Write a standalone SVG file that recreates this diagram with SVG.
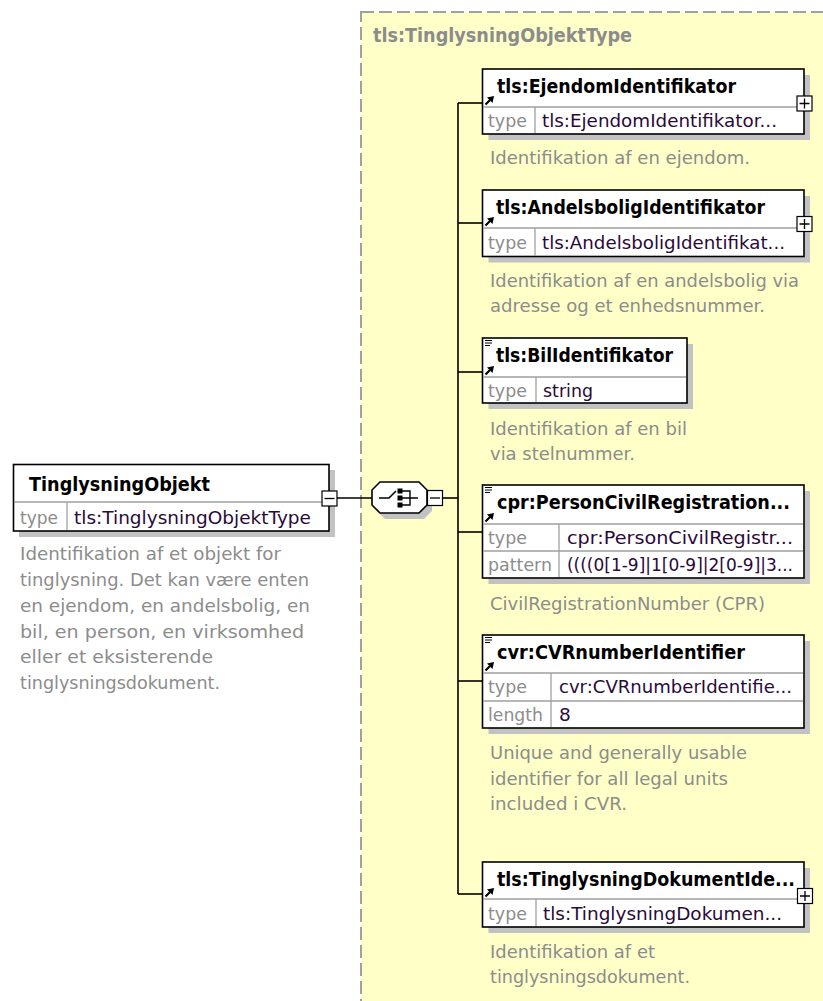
<svg xmlns="http://www.w3.org/2000/svg" xmlns:xlink="http://www.w3.org/1999/xlink" width="823" height="1001" viewBox="0 0 823 1001">
<style>
text{font-family:"DejaVu Sans",Verdana,sans-serif;}
.hdr{font-weight:bold;font-size:19px;fill:#000;}
.ttl{font-weight:bold;font-size:19px;fill:#8c8c8c;}
.lbl{font-size:18.5px;fill:#8c8c8c;}
.val{font-size:18.5px;fill:#2a0a3a;}
.desc{font-size:18.5px;fill:#8c8c8c;}
.box{fill:#fff;stroke:#000;stroke-width:1.6;}
.shadow{fill:#c2c2c2;}
.div{stroke:#a0a0a0;stroke-width:1.3;fill:none;}
.conn{stroke:#000;stroke-width:1.6;fill:none;}
.btn{fill:#fff;stroke:#000;stroke-width:1.2;}
.sign{stroke:#000;stroke-width:1.3;fill:none;}
</style>
<defs>
<g id="arrowIcon">
<path d="M485.5,-2.5 L490,-7" stroke="#000" stroke-width="2.2" fill="none"/>
<polygon points="494,-11 487,-9.5 492.5,-4" fill="#000"/>
</g>
<g id="simpleIcon">
<path d="M485,1.5 H492 M485,4 H492 M485,6.5 H490" stroke="#000" stroke-width="1" fill="none"/>
</g>
<g id="plusBtn">
<rect class="btn" x="-7.5" y="-7.5" width="15" height="15"/>
<path class="sign" d="M-5,0 H5 M0,-5 V5"/>
</g>
<g id="minusBtn">
<rect class="btn" x="-7.5" y="-7.5" width="15" height="15"/>
<path class="sign" d="M-5,0 H5"/>
</g>
</defs>

<g id="container">
<rect x="361" y="12" width="480" height="1010" fill="#ffffc8" stroke="#a0a0a0" stroke-width="2" stroke-dasharray="13,5"/>
<text class="ttl" x="373" y="42" textLength="259" lengthAdjust="spacingAndGlyphs">tls:TinglysningObjektType</text>
</g>

<g id="connectors">
<path class="conn" d="M337,498 H372"/>
<path class="conn" d="M443,498 H458"/>
<path class="conn" d="M458,103 V894"/>
<path class="conn" d="M458,103 H482"/>
<path class="conn" d="M458,223 H482"/>
<path class="conn" d="M458,372 H482"/>
<path class="conn" d="M458,532 H482"/>
<path class="conn" d="M458,681 H482"/>
<path class="conn" d="M458,894 H482"/>
</g>

<g id="TinglysningObjekt">
<rect class="shadow" x="19" y="470" width="316" height="67"/>
<rect class="box" x="13.5" y="464.5" width="315.5" height="66.5"/>
<path class="div" d="M14,502 H328 M67,502 V530"/>
<text class="hdr" x="29" y="491" textLength="181" lengthAdjust="spacingAndGlyphs">TinglysningObjekt</text>
<text class="lbl" x="20" y="524" textLength="38" lengthAdjust="spacingAndGlyphs">type</text>
<text class="val" x="74" y="524" textLength="237" lengthAdjust="spacingAndGlyphs">tls:TinglysningObjektType</text>
<use xlink:href="#minusBtn" transform="translate(329.5,498.5)"/>
<text class="desc" x="20" y="560" textLength="261" lengthAdjust="spacingAndGlyphs">Identifikation af et objekt for</text>
<text class="desc" x="20" y="586" textLength="289" lengthAdjust="spacingAndGlyphs">tinglysning. Det kan være enten</text>
<text class="desc" x="20" y="612" textLength="290" lengthAdjust="spacingAndGlyphs">en ejendom, en andelsbolig, en</text>
<text class="desc" x="20" y="638" textLength="284" lengthAdjust="spacingAndGlyphs">bil, en person, en virksomhed</text>
<text class="desc" x="20" y="663" textLength="193" lengthAdjust="spacingAndGlyphs">eller et eksisterende</text>
<text class="desc" x="20" y="689" textLength="200" lengthAdjust="spacingAndGlyphs">tinglysningsdokument.</text>
</g>

<g id="sequence">
<polygon class="shadow" points="385,488 424,488 432,496 432,511 424,519 385,519 377,511 377,496"/>
<polygon class="box" points="380,482 419,482 427,490 427,505 419,513 380,513 372,505 372,490"/>
<path d="M379,498 H389 L396,491" stroke="#000" stroke-width="1.6" fill="none"/>
<rect x="397.5" y="488.5" width="5" height="5" fill="#000"/>
<rect x="397.5" y="495.5" width="5" height="5" fill="#000"/>
<rect x="397.5" y="502.5" width="5" height="5" fill="#000"/>
<path d="M402,491 H410 V505 H402 M402,498 H418" stroke="#000" stroke-width="1.4" fill="none"/>
<use xlink:href="#minusBtn" transform="translate(435,498)"/>
</g>

<g id="EjendomIdentifikator">
<rect class="shadow" x="488.5" y="75" width="321.5" height="65"/>
<rect class="box" x="482.5" y="69" width="321.5" height="65"/>
<path class="div" d="M483,107 H803 M535,107 V133"/>
<use xlink:href="#arrowIcon" transform="translate(0,107)"/>
<text class="hdr" x="497" y="93" textLength="239" lengthAdjust="spacingAndGlyphs">tls:EjendomIdentifikator</text>
<text class="lbl" x="488" y="127" textLength="39" lengthAdjust="spacingAndGlyphs">type</text>
<text class="val" x="542" y="127" textLength="235" lengthAdjust="spacingAndGlyphs">tls:EjendomIdentifikator...</text>
<use xlink:href="#plusBtn" transform="translate(804.5,103.5)"/>
<text class="desc" x="490" y="164" textLength="260" lengthAdjust="spacingAndGlyphs">Identifikation af en ejendom.</text>
</g>

<g id="AndelsboligIdentifikator">
<rect class="shadow" x="488.5" y="196" width="321.5" height="66.5"/>
<rect class="box" x="482.5" y="190" width="321.5" height="66.5"/>
<path class="div" d="M483,228 H803 M535,228 V256"/>
<use xlink:href="#arrowIcon" transform="translate(0,228)"/>
<text class="hdr" x="496" y="214" textLength="269" lengthAdjust="spacingAndGlyphs">tls:AndelsboligIdentifikator</text>
<text class="lbl" x="488" y="249" textLength="39" lengthAdjust="spacingAndGlyphs">type</text>
<text class="val" x="542" y="249" textLength="243" lengthAdjust="spacingAndGlyphs">tls:AndelsboligIdentifikat...</text>
<use xlink:href="#plusBtn" transform="translate(804.5,224)"/>
<text class="desc" x="490" y="287" textLength="309" lengthAdjust="spacingAndGlyphs">Identifikation af en andelsbolig via</text>
<text class="desc" x="490" y="312" textLength="275" lengthAdjust="spacingAndGlyphs">adresse og et enhedsnummer.</text>
</g>

<g id="BilIdentifikator">
<rect class="shadow" x="488.5" y="344" width="204.5" height="65"/>
<rect class="box" x="482.5" y="338" width="204.5" height="65"/>
<path class="div" d="M483,377 H686 M536,377 V402"/>
<use xlink:href="#simpleIcon" transform="translate(0,339)"/>
<use xlink:href="#arrowIcon" transform="translate(0,377)"/>
<text class="hdr" x="496" y="362" textLength="177" lengthAdjust="spacingAndGlyphs">tls:BilIdentifikator</text>
<text class="lbl" x="488" y="397" textLength="39" lengthAdjust="spacingAndGlyphs">type</text>
<text class="val" x="543" y="397" textLength="50" lengthAdjust="spacingAndGlyphs">string</text>
<text class="desc" x="490" y="435" textLength="197" lengthAdjust="spacingAndGlyphs">Identifikation af en bil</text>
<text class="desc" x="490" y="460" textLength="145" lengthAdjust="spacingAndGlyphs">via stelnummer.</text>
</g>

<g id="PersonCivilRegistration">
<rect class="shadow" x="488.5" y="491" width="321.5" height="93"/>
<rect class="box" x="482.5" y="485" width="321.5" height="93"/>
<path class="div" d="M483,524 H803 M483,551 H803 M559,524 V577"/>
<use xlink:href="#simpleIcon" transform="translate(0,486)"/>
<use xlink:href="#arrowIcon" transform="translate(0,524)"/>
<text class="hdr" x="497" y="509" textLength="293" lengthAdjust="spacingAndGlyphs">cpr:PersonCivilRegistration...</text>
<text class="lbl" x="488" y="544" textLength="39" lengthAdjust="spacingAndGlyphs">type</text>
<text class="val" x="567" y="544" textLength="226" lengthAdjust="spacingAndGlyphs">cpr:PersonCivilRegistr...</text>
<text class="lbl" x="488" y="571" textLength="64" lengthAdjust="spacingAndGlyphs">pattern</text>
<text class="val" x="567" y="571" textLength="226" lengthAdjust="spacingAndGlyphs">((((0[1-9]|1[0-9]|2[0-9]|3...</text>
<text class="desc" x="490" y="610" textLength="275" lengthAdjust="spacingAndGlyphs">CivilRegistrationNumber (CPR)</text>
</g>

<g id="CVRnumberIdentifier">
<rect class="shadow" x="488.5" y="641" width="321.5" height="93"/>
<rect class="box" x="482.5" y="635" width="321.5" height="93"/>
<path class="div" d="M483,673 H803 M483,701 H803 M551,673 V727"/>
<use xlink:href="#simpleIcon" transform="translate(0,636)"/>
<use xlink:href="#arrowIcon" transform="translate(0,673)"/>
<text class="hdr" x="497" y="659" textLength="248" lengthAdjust="spacingAndGlyphs">cvr:CVRnumberIdentifier</text>
<text class="lbl" x="488" y="693" textLength="39" lengthAdjust="spacingAndGlyphs">type</text>
<text class="val" x="559" y="693" textLength="233" lengthAdjust="spacingAndGlyphs">cvr:CVRnumberIdentifie...</text>
<text class="lbl" x="488" y="721" textLength="55" lengthAdjust="spacingAndGlyphs">length</text>
<text class="val" x="559" y="721">8</text>
<text class="desc" x="490" y="759" textLength="257" lengthAdjust="spacingAndGlyphs">Unique and generally usable</text>
<text class="desc" x="490" y="785" textLength="238" lengthAdjust="spacingAndGlyphs">identifier for all legal units</text>
<text class="desc" x="490" y="810" textLength="137" lengthAdjust="spacingAndGlyphs">included i CVR.</text>
</g>

<g id="TinglysningDokumentIdentifikator">
<rect class="shadow" x="488.5" y="868" width="321.5" height="65"/>
<rect class="box" x="482.5" y="862" width="321.5" height="65"/>
<path class="div" d="M483,899 H803 M536,899 V926"/>
<use xlink:href="#arrowIcon" transform="translate(0,899)"/>
<text class="hdr" x="497" y="886" textLength="298" lengthAdjust="spacingAndGlyphs">tls:TinglysningDokumentIde...</text>
<text class="lbl" x="488" y="920" textLength="39" lengthAdjust="spacingAndGlyphs">type</text>
<text class="val" x="543" y="920" textLength="239" lengthAdjust="spacingAndGlyphs">tls:TinglysningDokumen...</text>
<use xlink:href="#plusBtn" transform="translate(805,896)"/>
<text class="desc" x="490" y="958" textLength="165" lengthAdjust="spacingAndGlyphs">Identifikation af et</text>
<text class="desc" x="490" y="983" textLength="200" lengthAdjust="spacingAndGlyphs">tinglysningsdokument.</text>
</g>
</svg>
